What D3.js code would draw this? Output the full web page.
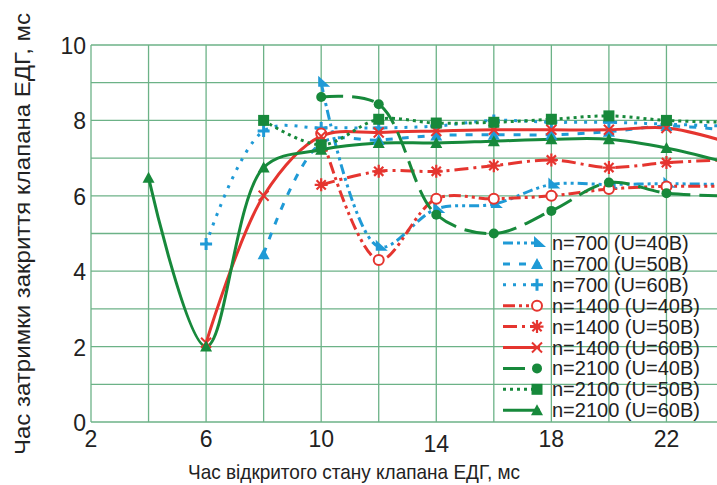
<!DOCTYPE html>
<html>
<head>
<meta charset="utf-8">
<script src="https://cdn.jsdelivr.net/npm/d3@7"></script>
<style>
  body { margin: 0; background: #fff; }
  svg { display: block; font-family: "Liberation Sans", Arial, sans-serif; }
</style>
</head>
<body>
<div id="chart"></div>
<script>
// axis ticks
var xTicks = [2, 6, 10, 14, 18, 22];
var yTicks = [0, 2, 4, 6, 8, 10];

// series values (x = open time, y = close delay)
var x700_40 = [10, 12, 14, 16, 18, 20, 22, 24];
var y700_40 = [9.0, 4.65, 5.65, 5.78, 6.3, 6.3, 6.32, 6.3];
var x700_50 = [8, 10, 12, 14, 16, 18, 20, 22, 24];
var y700_50 = [4.45, 7.4, 7.48, 7.6, 7.62, 7.62, 7.7, 7.85, 7.75];
var x700_60 = [6, 8, 10, 12, 14, 16, 18, 20, 22, 24];
var y700_60 = [4.72, 7.72, 7.8, 7.8, 7.85, 8.0, 7.95, 7.95, 7.9, 7.85];
var x1400_40 = [10, 12, 14, 16, 18, 20, 22, 24];
var y1400_40 = [7.65, 4.3, 5.92, 5.92, 6.0, 6.18, 6.25, 6.25];
var x1400_50 = [10, 12, 14, 16, 18, 20, 22, 24];
var y1400_50 = [6.29, 6.65, 6.65, 6.8, 6.95, 6.75, 6.88, 6.95];
var x1400_60 = [6, 8, 10, 12, 14, 16, 18, 20, 22, 24];
var y1400_60 = [2.1, 6.0, 7.58, 7.68, 7.72, 7.75, 7.75, 7.75, 7.8, 7.45];
var x2100_40 = [10, 12, 14, 16, 18, 20, 22, 24];
var y2100_40 = [8.62, 8.43, 5.5, 5.0, 5.6, 6.35, 6.07, 6.0];
var x2100_50 = [8, 10, 12, 14, 16, 18, 20, 22, 24];
var y2100_50 = [8.0, 7.35, 8.03, 7.93, 7.95, 8.03, 8.12, 8.0, 7.95];
var x2100_60 = [4, 6, 8, 10, 12, 14, 16, 18, 20, 22, 24];
var y2100_60 = [6.48, 2.0, 6.75, 7.22, 7.4, 7.4, 7.45, 7.5, 7.5, 7.27, 6.9];

var names = ["n=700 (U=40B)", "n=700 (U=50B)", "n=700 (U=60B)",
             "n=1400 (U=40B)", "n=1400 (U=50B)", "n=1400 (U=60B)",
             "n=2100 (U=40B)", "n=2100 (U=50B)", "n=2100 (U=60B)"];

var blue = "#1f9ad6", red = "#e5352f", green = "#17893b", gridColor = "#6cb287";

var series = [
    {xs: x700_40, ys: y700_40, color: blue, dash: "10,4,3,4,3,4", mark: "flag"},
    {xs: x700_50, ys: y700_50, color: blue, dash: "7,9", mark: "tri"},
    {xs: x700_60, ys: y700_60, color: blue, dash: "3,7", mark: "plus"},
    {xs: x1400_40, ys: y1400_40, color: red, dash: "12,4,3,4,3,4", mark: "ocircle"},
    {xs: x1400_50, ys: y1400_50, color: red, dash: "14,5,3,5", mark: "star"},
    {xs: x1400_60, ys: y1400_60, color: red, dash: null, mark: "cross"},
    {xs: x2100_40, ys: y2100_40, color: green, dash: "22,9", mark: "circle"},
    {xs: x2100_50, ys: y2100_50, color: green, dash: "3,4", mark: "square"},
    {xs: x2100_60, ys: y2100_60, color: green, dash: null, mark: "tri"}
];

var width = 717, height = 485;
var svg = d3.select("#chart").append("svg")
    .attr("width", width)
    .attr("height", height);

var x = d3.scaleLinear().domain([2, 24]).range([91, 724]);
var y = d3.scaleLinear().domain([0, 10]).range([422, 45]);

// grid
var grid = svg.append("g");
grid.selectAll("line.v")
    .data(d3.range(2, 25, 2))
    .enter().append("line")
    .attr("x1", function(d){ return x(d); })
    .attr("x2", function(d){ return x(d); })
    .attr("y1", y(10)).attr("y2", y(0))
    .attr("stroke", gridColor).attr("stroke-width", 1.3);
grid.selectAll("line.h")
    .data(d3.range(0, 11, 1))
    .enter().append("line")
    .attr("x1", x(2)).attr("x2", width)
    .attr("y1", function(d){ return y(d); })
    .attr("y2", function(d){ return y(d); })
    .attr("stroke", gridColor).attr("stroke-width", 1.3);

// tick labels
svg.append("g").selectAll("text")
    .data(yTicks)
    .enter().append("text")
    .attr("x", 86)
    .attr("y", function(d){ return y(d) + 9; })
    .attr("text-anchor", "end")
    .attr("font-size", 23)
    .attr("fill", "#222")
    .text(function(d){ return d; });

svg.append("g").selectAll("text")
    .data(xTicks)
    .enter().append("text")
    .attr("x", function(d){ return x(d); })
    .attr("y", function(d){ return d == 14 ? 452 : 447; })
    .attr("text-anchor", "middle")
    .attr("font-size", 23)
    .attr("fill", "#222")
    .text(function(d){ return d; });

svg.append("text")
    .attr("x", 354).attr("y", 479)
    .attr("text-anchor", "middle")
    .attr("font-size", 21)
    .attr("textLength", 332)
    .attr("lengthAdjust", "spacingAndGlyphs")
    .attr("fill", "#222")
    .text("Час відкритого стану клапана ЕДГ, мс");

svg.append("text")
    .attr("transform", "translate(30,234) rotate(-90)")
    .attr("text-anchor", "middle")
    .attr("font-size", 22)
    .attr("textLength", 442)
    .attr("lengthAdjust", "spacingAndGlyphs")
    .attr("fill", "#222")
    .text("Час затримки закриття клапана ЕДГ, мс");

// markers
function drawMark(g, type, cx, cy, color){
    if (type == "circle") {
        g.append("circle").attr("cx", cx).attr("cy", cy).attr("r", 5).attr("fill", color);
    } else if (type == "ocircle") {
        g.append("circle").attr("cx", cx).attr("cy", cy).attr("r", 5)
            .attr("fill", "#fff").attr("stroke", color).attr("stroke-width", 2);
    } else if (type == "square") {
        g.append("rect").attr("x", cx - 5.5).attr("y", cy - 5.5)
            .attr("width", 11).attr("height", 11).attr("fill", color);
    } else if (type == "tri") {
        g.append("path").attr("d", "M" + (cx - 6) + "," + (cy + 5) + "L" + (cx + 6) + "," + (cy + 5) + "L" + cx + "," + (cy - 6) + "Z")
            .attr("fill", color);
    } else if (type == "flag") {
        g.append("path").attr("d", "M" + (cx - 3) + "," + (cy - 7) + "L" + (cx - 3) + "," + (cy + 4) + "L" + (cx + 9) + "," + (cy + 4) + "Z")
            .attr("fill", color);
    } else if (type == "plus") {
        g.append("path").attr("d", "M" + (cx - 6) + "," + cy + "H" + (cx + 6) + "M" + cx + "," + (cy - 6) + "V" + (cy + 6))
            .attr("stroke", color).attr("stroke-width", 3);
    } else if (type == "cross") {
        g.append("path").attr("d", "M" + (cx - 5) + "," + (cy - 5) + "L" + (cx + 5) + "," + (cy + 5) + "M" + (cx - 5) + "," + (cy + 5) + "L" + (cx + 5) + "," + (cy - 5))
            .attr("stroke", color).attr("stroke-width", 2);
    } else if (type == "star") {
        var p = "";
        for (var a = 0; a < 4; a++) {
            var ang = a * Math.PI / 4;
            var dx = 6.5 * Math.cos(ang), dy = 6.5 * Math.sin(ang);
            p += "M" + (cx - dx) + "," + (cy - dy) + "L" + (cx + dx) + "," + (cy + dy);
        }
        g.append("path").attr("d", p).attr("stroke", color).attr("stroke-width", 2.2);
    }
}

var line = d3.line()
    .x(function(d){ return x(d[0]); })
    .y(function(d){ return y(d[1]); })
    .curve(d3.curveCatmullRom);

var plot = svg.append("g");
series.forEach(function(s){
    var pts = s.xs.map(function(v, i){ return [v, s.ys[i]]; });
    plot.append("path")
        .attr("d", line(pts))
        .attr("fill", "none")
        .attr("stroke", s.color)
        .attr("stroke-width", 3)
        .attr("stroke-dasharray", s.dash);
});
series.forEach(function(s){
    s.xs.forEach(function(v, i){
        drawMark(plot, s.mark, x(v), y(s.ys[i]), s.color);
    });
});

// legend
var legend = svg.append("g");
names.forEach(function(name, i){
    var s = series[i];
    var ly = 243 + i * 20.9;
    legend.append("line")
        .attr("x1", 503).attr("x2", 540)
        .attr("y1", ly).attr("y2", ly)
        .attr("stroke", s.color).attr("stroke-width", 3)
        .attr("stroke-dasharray", s.dash);
    drawMark(legend, s.mark, 537, ly, s.color);
    legend.append("text")
        .attr("x", 552).attr("y", ly + 7)
        .attr("font-size", 20)
        .attr("fill", "#222")
        .text(name);
});
</script>
</body>
</html>
